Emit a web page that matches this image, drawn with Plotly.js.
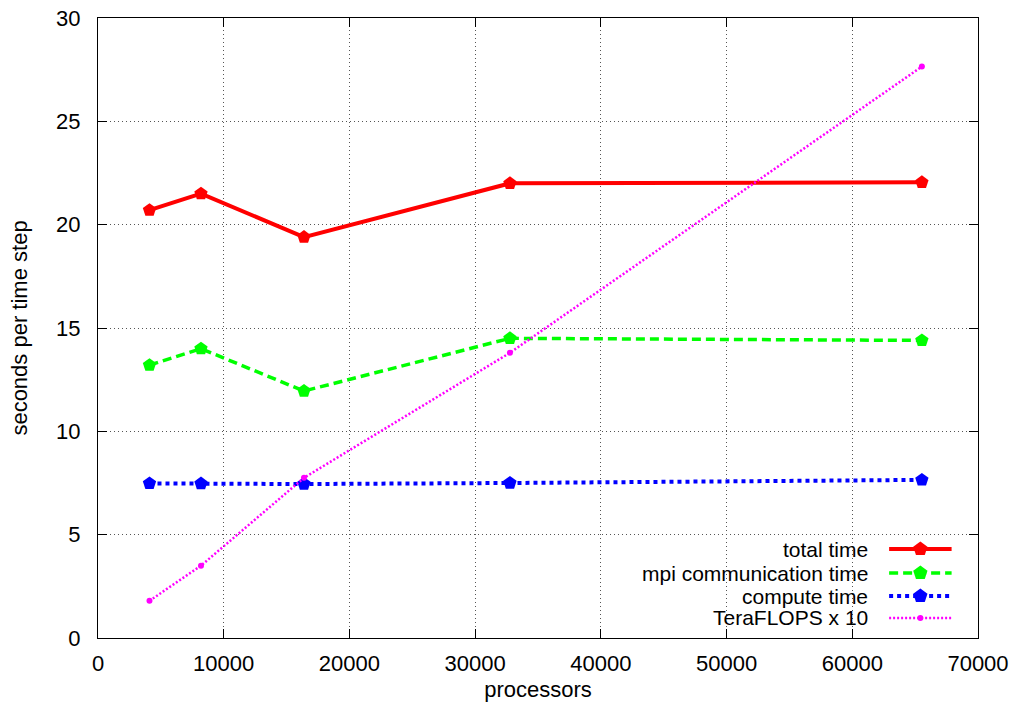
<!DOCTYPE html>
<html>
<head>
<meta charset="utf-8">
<script src="https://cdn.plot.ly/plotly-3.0.1.min.js"></script>
<style>
html,body{margin:0;padding:0;background:#fff;}
#chart{width:1018px;height:706px;}
</style>
</head>
<body>
<div id="chart"></div>
<script>
// ---- data ----
const processors = [4096, 8192, 16384, 32768, 65536];
const totalTime = [20.7, 21.5, 19.4, 22.0, 22.05];
const mpiTime = [13.2, 14.0, 11.95, 14.5, 14.4];
const computeTime = [7.48, 7.47, 7.45, 7.5, 7.65];
const teraflopsX10 = [1.8, 3.5, 7.75, 13.8, 27.65];
const seriesNames = ["total time", "mpi communication time", "compute time", "TeraFLOPS x 10"];
const xTickVals = [0, 10000, 20000, 30000, 40000, 50000, 60000, 70000];
const yTickVals = [0, 5, 10, 15, 20, 25, 30];

const FONT = "Liberation Sans, Arial, Helvetica, sans-serif";
const styles = [
  {color: "#ff0000", width: 4, dash: "solid", symbol: "pentagon", size: 14},
  {color: "#00ff00", width: 3.5, dash: "9px,5px", symbol: "pentagon", size: 14},
  {color: "#0000ff", width: 4, dash: "4px,4px", symbol: "pentagon", size: 14},
  {color: "#ff00ff", width: 2.5, dash: "2px,2px", symbol: "circle", size: 6}
];
const series = [totalTime, mpiTime, computeTime, teraflopsX10];

const traces = series.map((ys, i) => ({
  type: "scatter",
  mode: "lines+markers",
  x: processors,
  y: ys,
  name: seriesNames[i],
  showlegend: false,
  line: {color: styles[i].color, width: styles[i].width, dash: styles[i].dash},
  marker: {color: styles[i].color, symbol: styles[i].symbol, size: styles[i].size, line: {width: 0}}
}));

// ---- hand-drawn gnuplot style key (text left, sample right) ----
const keyRowsY = [0.1435, 0.1048, 0.0677, 0.0323];
const keyTextX = 0.876;
const keyLineX0 = 0.899, keyLineX1 = 0.970, keyMidX = 0.9345;
const shapes = [];
const annotations = [];
function pentagonPath(r) {
  const pts = [];
  for (let k = 0; k < 5; k++) {
    const a = Math.PI / 2 + k * 2 * Math.PI / 5;
    pts.push([r * Math.cos(a), r * Math.sin(a)]);
  }
  return "M" + pts.map(p => p[0].toFixed(2) + "," + p[1].toFixed(2)).join("L") + "Z";
}
seriesNames.forEach((nm, i) => {
  const y = keyRowsY[i];
  annotations.push({
    xref: "paper", yref: "paper", x: keyTextX, y: y,
    xanchor: "right", yanchor: "middle", showarrow: false,
    text: nm, font: {family: FONT, size: 21, color: "#000"}, borderpad: 0
  });
  shapes.push({
    type: "line", xref: "paper", yref: "paper",
    x0: keyLineX0, x1: keyLineX1, y0: y, y1: y,
    line: {color: styles[i].color, width: styles[i].width, dash: styles[i].dash}
  });
  if (styles[i].symbol === "pentagon") {
    shapes.push({
      type: "path", xref: "paper", yref: "paper",
      xsizemode: "pixel", ysizemode: "pixel", xanchor: keyMidX, yanchor: y,
      path: pentagonPath(7.5),
      fillcolor: styles[i].color, line: {width: 0}
    });
  } else {
    shapes.push({
      type: "circle", xref: "paper", yref: "paper",
      xsizemode: "pixel", ysizemode: "pixel", xanchor: keyMidX, yanchor: y,
      x0: -3, x1: 3, y0: -3, y1: 3,
      fillcolor: styles[i].color, line: {width: 0}
    });
  }
});

const axisCommon = {
  showline: true, linecolor: "#000", linewidth: 1, mirror: "allticks",
  ticks: "inside", ticklen: 9, tickwidth: 1, tickcolor: "#000",
  showgrid: true, gridcolor: "#555", gridwidth: 1, griddash: "1px,3px",
  zeroline: false, tickfont: {family: FONT, size: 22, color: "#000"}
};

const layout = {
  width: 1018, height: 706,
  margin: {l: 98, r: 40, t: 18, b: 68},
  paper_bgcolor: "#fff", plot_bgcolor: "#fff",
  font: {family: FONT, size: 22, color: "#000"},
  showlegend: false,
  xaxis: Object.assign({}, axisCommon, {
    range: [0, 70000], tickmode: "array", tickvals: xTickVals,
    ticktext: xTickVals.map(String), ticklabelstandoff: 6,
    title: {text: "processors", font: {family: FONT, size: 22}, standoff: 6},
    automargin: false
  }),
  yaxis: Object.assign({}, axisCommon, {
    range: [0, 30], tickmode: "array", tickvals: yTickVals,
    ticktext: yTickVals.map(String), ticklabelstandoff: 12,
    title: {text: "seconds per time step", font: {family: FONT, size: 22}, standoff: 22},
    automargin: false
  }),
  shapes: shapes,
  annotations: annotations
};

Plotly.newPlot("chart", traces, layout, {displayModeBar: false, staticPlot: true});
</script>
</body>
</html>
